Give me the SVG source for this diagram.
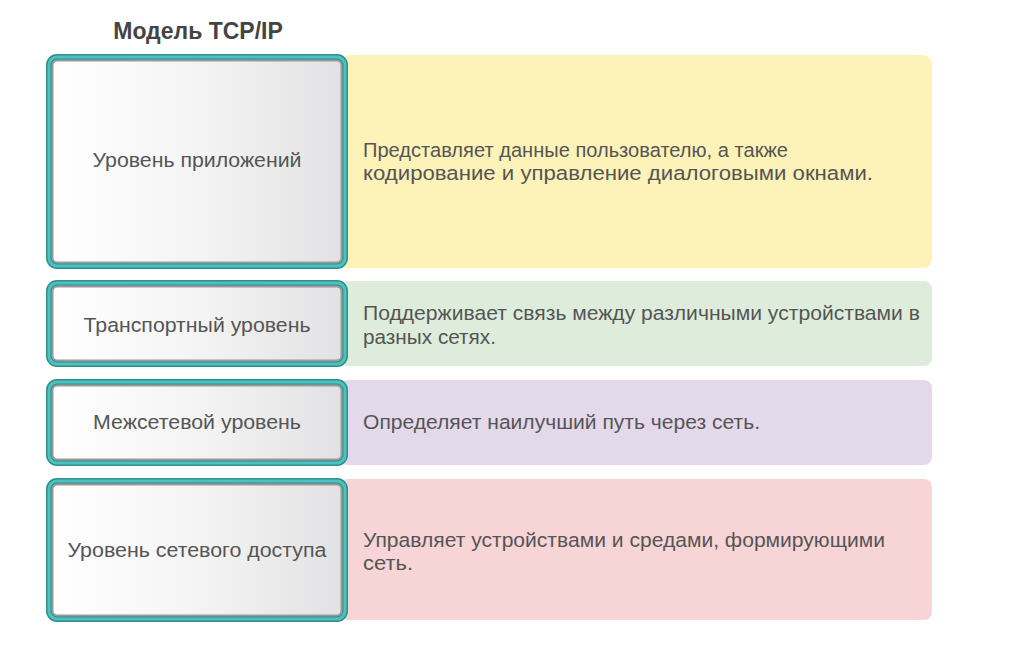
<svg xmlns="http://www.w3.org/2000/svg" width="1014" height="648" viewBox="0 0 1014 648">
<defs>
<linearGradient id="g" x1="0" y1="0" x2="1" y2="0">
<stop offset="0" stop-color="#ffffff"/>
<stop offset="0.5" stop-color="#f4f4f4"/>
<stop offset="1" stop-color="#e2e2e4"/>
</linearGradient>
<style>
.t{font-family:"Liberation Sans",Arial,sans-serif;font-size:20.5px;fill:#555555}
.c{text-anchor:middle}
.ttl{font-family:"Liberation Sans",Arial,sans-serif;font-size:23px;font-weight:bold;fill:#444444;text-anchor:middle}
.outer{fill:none;stroke:#2f8f8c;stroke-width:6}
.mid{fill:none;stroke:#4cc2be;stroke-width:3}
.inner{fill:url(#g);stroke:#9a9a9a;stroke-width:2}
</style>
</defs>
<rect width="1014" height="648" fill="#ffffff"/>
<text class="ttl" x="198" y="39">Модель TCP/IP</text>

<g id="layer1">
<rect x="340" y="55" width="592" height="213" rx="9" fill="#fdf3b9"/>
<rect class="outer" x="49" y="57" width="296" height="209" rx="8"/>
<rect class="mid" x="49" y="57" width="296" height="209" rx="8"/>
<rect class="inner" x="52.5" y="60.5" width="289" height="202" rx="5"/>
<text class="t c" x="197" y="167" textLength="209" lengthAdjust="spacingAndGlyphs">Уровень приложений</text>
<text class="t" x="363" y="157" textLength="425" lengthAdjust="spacingAndGlyphs">Представляет данные пользователю, а также</text>
<text class="t" x="363" y="180" textLength="510" lengthAdjust="spacingAndGlyphs">кодирование и управление диалоговыми окнами.</text>
</g>

<g id="layer2">
<rect x="340" y="281" width="592" height="85" rx="8" fill="#deeddb"/>
<rect class="outer" x="49" y="283" width="296" height="81" rx="8"/>
<rect class="mid" x="49" y="283" width="296" height="81" rx="8"/>
<rect class="inner" x="52.5" y="286.5" width="289" height="74" rx="5"/>
<text class="t c" x="197" y="332" textLength="227" lengthAdjust="spacingAndGlyphs">Транспортный уровень</text>
<text class="t" x="363" y="320" textLength="557" lengthAdjust="spacingAndGlyphs">Поддерживает связь между различными устройствами в</text>
<text class="t" x="363" y="344" textLength="133" lengthAdjust="spacingAndGlyphs">разных сетях.</text>
</g>

<g id="layer3">
<rect x="340" y="380" width="592" height="85" rx="8" fill="#e3d9ea"/>
<rect class="outer" x="49" y="382" width="296" height="81" rx="8"/>
<rect class="mid" x="49" y="382" width="296" height="81" rx="8"/>
<rect class="inner" x="52.5" y="385.5" width="289" height="74" rx="5"/>
<text class="t c" x="197" y="429" textLength="208" lengthAdjust="spacingAndGlyphs">Межсетевой уровень</text>
<text class="t" x="363" y="429" textLength="397" lengthAdjust="spacingAndGlyphs">Определяет наилучший путь через сеть.</text>
</g>

<g id="layer4">
<rect x="340" y="479" width="592" height="141" rx="8" fill="#f7d4d6"/>
<rect class="outer" x="49" y="481" width="296" height="138" rx="8"/>
<rect class="mid" x="49" y="481" width="296" height="138" rx="8"/>
<rect class="inner" x="52.5" y="484.5" width="289" height="131" rx="5"/>
<text class="t c" x="197" y="557" textLength="259" lengthAdjust="spacingAndGlyphs">Уровень сетевого доступа</text>
<text class="t" x="363" y="547" textLength="522" lengthAdjust="spacingAndGlyphs">Управляет устройствами и средами, формирующими</text>
<text class="t" x="363" y="570" textLength="50" lengthAdjust="spacingAndGlyphs">сеть.</text>
</g>
</svg>
